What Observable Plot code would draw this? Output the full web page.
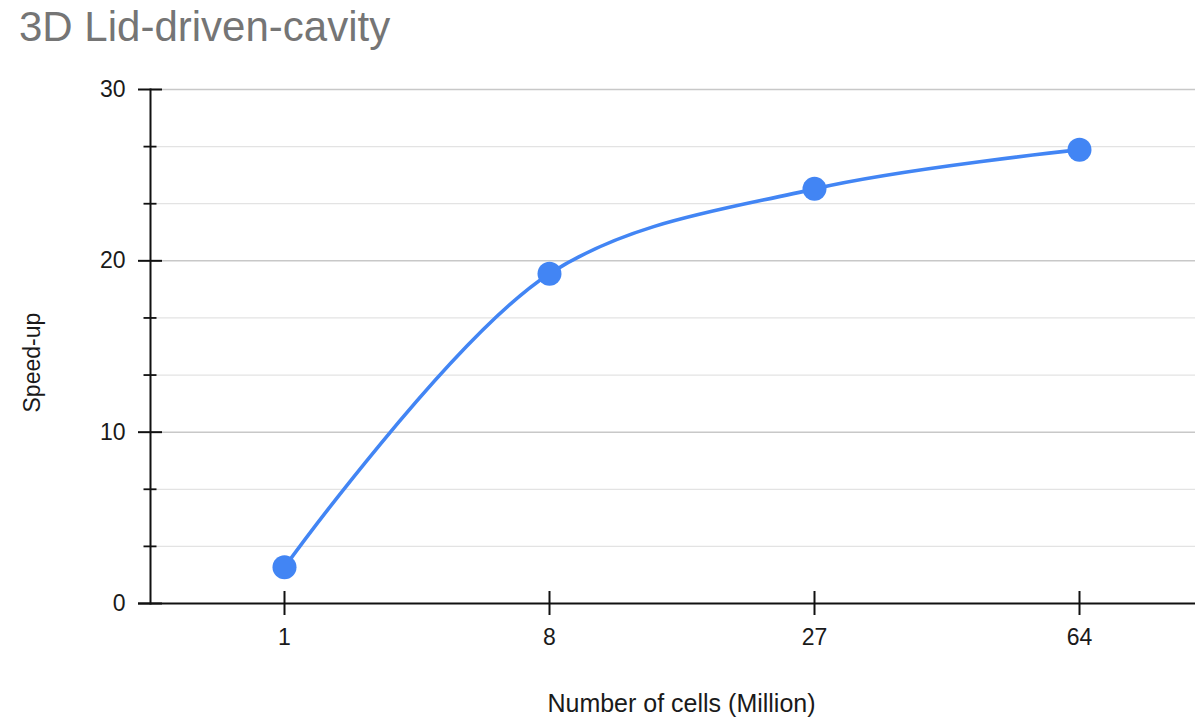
<!DOCTYPE html>
<html>
<head>
<meta charset="utf-8">
<script src="https://cdn.jsdelivr.net/npm/d3@7"></script>
<script src="https://cdn.jsdelivr.net/npm/@observablehq/plot@0.6"></script>
<style>
  html, body { margin: 0; padding: 0; background: #fff; }
  #wrap { width: 1195px; height: 718px; position: relative; font-family: "Liberation Sans", Arial, sans-serif; }
  #title { height: 60px; box-sizing: border-box; padding-left: 19px; padding-top: 3px; font-size: 42px; color: #757575; line-height: 48px; white-space: nowrap; }
  svg { display: block; }
</style>
</head>
<body>
<div id="wrap">
  <div id="title">3D Lid-driven-cavity</div>
  <div id="chart"></div>
</div>
<script>
const cells = ["1", "8", "27", "64"];
const speedup = [2.12, 19.25, 24.2, 26.48];
const majorTicks = [0, 10, 20, 30];
const minorTicks = [10/3, 20/3, 40/3, 50/3, 70/3, 80/3];
const xTitle = "Number of cells (Million)";
const yTitle = "Speed-up";

const data = cells.map((c, i) => ({cells: c, speedup: speedup[i]}));
const blue = "#4285f4";

const chart = Plot.plot({
  width: 1195,
  height: 658,
  marginTop: 29,
  marginBottom: 115,
  marginLeft: 150,
  marginRight: 0,
  style: {fontFamily: "'Liberation Sans', Arial, sans-serif", fontSize: "23px", color: "#222", background: "#fff"},
  x: {type: "point", domain: cells, range: [283, 1080], padding: 0},
  y: {domain: [0, 30]},
  marks: [
    Plot.ruleY(minorTicks, {stroke: "#e3e3e3", strokeWidth: 1.3}),
    Plot.ruleY(majorTicks.filter(d => d > 0), {stroke: "#c8c8c8", strokeWidth: 1.5}),
    Plot.axisY(minorTicks, {tickSize: 13, dx: 6.5, text: null, label: null, stroke: "#111", strokeWidth: 1.8}),
    Plot.axisY(majorTicks, {tickSize: 24, dx: 12, tickPadding: 13, label: null, stroke: "#111", strokeWidth: 2, fill: "#1a1a1a", fontSize: 23}),
    Plot.axisX(cells, {tickSize: 24, dy: -12, tickPadding: 13, label: null, stroke: "#111", strokeWidth: 2, fill: "#1a1a1a", fontSize: 23}),
    Plot.frame({anchor: "left", stroke: "#111", strokeWidth: 2}),
    Plot.ruleY([0], {stroke: "#111", strokeWidth: 2.2, insetLeft: -12}),
    Plot.line(data, {x: "cells", y: "speedup", stroke: blue, strokeWidth: 3.6, curve: "catmull-rom"}),
    Plot.dot(data, {x: "cells", y: "speedup", r: 12, fill: blue, stroke: null}),
    Plot.text([yTitle], {frameAnchor: "left", dx: -118, dy: 66, rotate: -90, fontSize: 23, fill: "#1a1a1a"}),
    Plot.text([xTitle], {frameAnchor: "bottom", dx: 8.5, dy: 108, fontSize: 25, fill: "#1a1a1a"})
  ]
});
document.getElementById("chart").appendChild(chart);
</script>
</body>
</html>
